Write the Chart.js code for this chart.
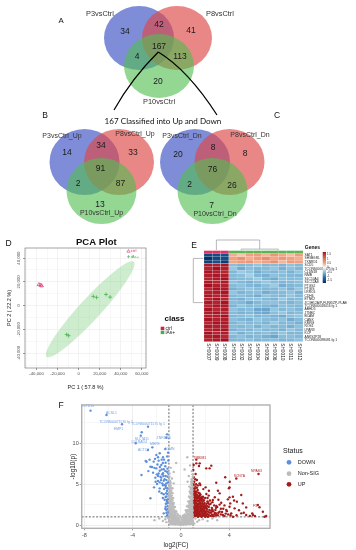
<!DOCTYPE html>
<html><head><meta charset="utf-8">
<script src="https://cdn.jsdelivr.net/npm/chart.js@4.4.1/dist/chart.umd.min.js"></script>
<style>
html,body{margin:0;padding:0;background:#fff;}
#wrap{position:relative;width:356px;height:550px;overflow:hidden;background:#fff;}
canvas{position:absolute;}
</style></head><body>
<div id="wrap">
<canvas id="venn" width="356" height="232" style="left:0;top:0"></canvas>
<canvas id="pca" width="190" height="168" style="left:0;top:232px"></canvas>
<canvas id="heat" width="171" height="140" style="left:185px;top:232px"></canvas>
<canvas id="volc" width="356" height="152" style="left:0;top:398px"></canvas>
</div>
<script>
// ---------------- DATA ----------------
// Venn: region order = only1, 1&2, only2, all three, 1&3, 2&3, only3
const vennSetsA = ["P3vsCtrl","P8vsCtrl","P10vsCtrl"];
const vennSetsB = ["P3vsCtrl_Up","P8vsCtrl_Up","P10vsCtrl_Up"];
const vennSetsC = ["P3vsCtrl_Dn","P8vsCtrl_Dn","P10vsCtrl_Dn"];
const vennCountsA = [34,42,41,167,4,113,20];
const vennCountsB = [14,34,33,91,2,87,13];
const vennCountsC = [20,8,8,76,2,26,7];
const vennTitle = "167 Classified into Up and Down";

// PCA
const pcaGroups = ["ctrl","iAs+"];
const pcaCtrl = [[-37800,17700],[-35200,16700],[-36200,17300]];
const pcaIAs = [[13900,7750],[17000,6900],[26000,9400],[29800,7200],[-11400,-24300],[-9500,-25300]];
const pcaXLabel = "PC 1 ( 57.8 %)";
const pcaYLabel = "PC 2 ( 22.2 %)";

// Heatmap
const heatSamples = ["SH0007","SH0009","SH0008","SH0001","SH0002","SH0003","SH0004","SH0005","SH0006","SH0010","SH0011","SH0012"];
const heatGroups = ["ctrl","ctrl","ctrl","iAs+","iAs+","iAs+","iAs+","iAs+","iAs+","iAs+","iAs+","iAs+"];
const heatGenes = ["SAT1","SH3BGRL","TXNRD1","SCD5","TCONS00071575 fg 1","CLDN18","NMB","SLC10A4","SLC12A8","PTGS2","PTGIS","LRRC6","CDH6","ETNK2","ZC3H12A/P-FUNK/ZP-PLAB","TCONS00018016 fg 1","ABHD5","JTNBC","BCAM","CANX","KMRG","ROS1","LPAR3","KCP","ANKS2P28","TCONS00098081 fg 1"];
const heatValues = [
 [-1.55,-1.50,-1.45, 0.45,0.30,0.55,0.60,0.40,0.65,0.50,0.35,0.60],
 [-1.85,-1.55,-1.50, 0.55,0.70,0.45,0.60,0.75,0.50,0.65,0.55,0.45],
 [-1.60,-1.45,-1.65, 0.50,0.60,0.65,0.45,0.55,0.70,0.40,0.60,0.55],
 [1.72,1.68,1.75,-0.55,-0.62,-0.58,-0.50,-0.60,-0.57,-0.63,-0.52,-0.59],
 [1.65,1.80,1.70,-0.48,-0.70,-0.55,-0.62,-0.58,-0.50,-0.66,-0.54,-0.60],
 [1.78,1.70,1.62,-0.60,-0.45,-0.52,-0.68,-0.57,-0.61,-0.55,-0.64,-0.50],
 [1.70,1.75,1.68,-0.58,-0.55,-0.40,-0.62,-0.66,-0.53,-0.57,-0.60,-0.62],
 [1.66,1.72,1.79,-0.62,-0.58,-0.55,-0.45,-0.63,-0.70,-0.54,-0.58,-0.56],
 [1.74,1.64,1.71,-0.54,-0.60,-0.66,-0.58,-0.48,-0.57,-0.62,-0.59,-0.55],
 [1.80,1.69,1.66,-0.57,-0.52,-0.60,-0.64,-0.55,-0.45,-0.68,-0.61,-0.58],
 [1.62,1.77,1.73,-0.65,-0.58,-0.50,-0.57,-0.61,-0.59,-0.52,-0.66,-0.48],
 [1.69,1.71,1.76,-0.50,-0.63,-0.57,-0.55,-0.68,-0.60,-0.58,-0.52,-0.64],
 [1.75,1.66,1.69,-0.59,-0.55,-0.62,-0.70,-0.52,-0.58,-0.61,-0.50,-0.60],
 [1.67,1.79,1.64,-0.61,-0.66,-0.54,-0.52,-0.59,-0.63,-0.47,-0.60,-0.57],
 [1.73,1.65,1.77,-0.56,-0.59,-0.71,-0.60,-0.54,-0.52,-0.58,-0.63,-0.55],
 [1.64,1.74,1.72,-0.63,-0.50,-0.58,-0.56,-0.62,-0.67,-0.55,-0.57,-0.60],
 [1.78,1.63,1.70,-0.52,-0.61,-0.56,-0.73,-0.75,-0.50,-0.59,-0.54,-0.62],
 [1.71,1.76,1.65,-0.58,-0.64,-0.60,-0.68,-0.72,-0.55,-0.48,-0.61,-0.57],
 [1.68,1.70,1.81,-0.60,-0.57,-0.52,-0.61,-0.58,-0.64,-0.70,-0.55,-0.50],
 [1.76,1.67,1.68,-0.55,-0.62,-0.64,-0.50,-0.57,-0.60,-0.53,-0.69,-0.58],
 [1.63,1.78,1.74,-0.62,-0.54,-0.59,-0.57,-0.63,-0.48,-0.61,-0.58,-0.66],
 [1.72,1.69,1.67,-0.57,-0.60,-0.55,-0.64,-0.52,-0.62,-0.58,-0.66,-0.54],
 [1.66,1.73,1.78,-0.64,-0.56,-0.61,-0.53,-0.60,-0.57,-0.65,-0.50,-0.59],
 [1.79,1.64,1.71,-0.53,-0.66,-0.57,-0.60,-0.55,-0.63,-0.51,-0.62,-0.61],
 [1.70,1.75,1.62,-0.59,-0.53,-0.63,-0.58,-0.66,-0.74,-0.56,-0.55,-0.60],
 [1.65,1.71,1.80,-0.61,-0.59,-0.54,-0.62,-0.57,-0.55,-0.63,-0.60,-0.52]
];
const heatLegendTicks = [1.5,1,0.5,0,-0.5,-1,-1.5];

// Volcano
const volcStatus = ["DOWN","Non-SIG","UP"];
const volcDown = [[-7.49,14.0],[-6.17,13.47],[-4.88,12.33],[-2.73,12.04],[-3.25,11.35],[-3.33,10.94],[-3.75,10.0],[-2.37,9.51],[-2.73,9.18],[-1.16,11.1],[-1.21,10.69],[-1.07,8.86],
 [-1.76,8.78],[-2.04,8.57],[-1.49,8.29],[-2.92,7.84],[-2.26,7.76],[-1.85,7.88],[-1.63,7.35],[-1.27,7.63],[-2.53,7.14],[-2.04,6.94],[-1.76,6.65],[-1.43,6.82],[-2.31,6.41],[-1.49,6.33],[-1.16,6.53],[-1.9,6.0],[-2.12,5.8],[-1.63,5.8],[-1.27,6.0],[-1.43,5.43],[-1.76,5.22],[-1.98,5.02],[-1.49,4.86],[-1.21,5.1],[-2.23,4.61],[-1.76,4.49],[-1.27,4.57],[-1.16,4.2],[-2.53,3.27],[-1.43,3.76],[-1.27,3.43],[-1.18,3.06],[-1.16,2.65],[-1.27,2.24],[-1.21,1.84],[-1.43,1.43],[-1.16,1.14],
 [-1.3,7.2],[-1.55,6.2],[-1.35,5.6],[-1.1,5.9],[-1.65,5.5],[-1.25,4.8],[-1.4,4.4],[-1.12,3.8],[-1.6,3.9],[-1.2,3.5],[-1.05,3.2],[-1.15,2.9],[-1.1,2.3],[-1.3,2.0],[-1.05,1.6],[-1.8,4.1],[-2.0,6.2],[-2.4,7.1],[-2.85,7.75],[-3.27,6.12],[-2.7,6.6],[-1.95,7.4],[-1.6,8.0],[-1.05,7.9],[-1.12,6.9],
 [-1.08,1.3],[-1.2,1.5],[-1.12,1.95],[-1.25,2.6],[-1.08,2.8],[-1.35,3.1],[-1.22,3.9],[-1.5,3.3],[-1.12,4.5],[-1.35,4.9],[-1.08,5.2],[-1.55,5.1],[-1.2,5.5],[-1.45,6.0],[-1.05,6.3],[-1.3,6.6],[-1.6,6.8],[-1.85,6.3],[-1.7,5.9],[-1.9,5.4],[-2.1,5.3],[-1.5,7.6],[-1.75,7.1],[-2.2,7.0],[-1.4,8.0],[-1.9,8.3],[-2.6,8.0],[-2.15,8.1],[-1.15,8.4],[-1.3,9.3]];
const volcNS = [[-0.95,5.9],[-0.9,5.4],[-0.98,5.0],[-0.85,4.8],[-0.92,4.5],[-0.8,4.2],[-0.95,4.0],[-0.88,3.8],[-0.75,3.6],[-0.97,3.5],[-0.82,3.3],[-0.9,3.1],[-0.7,3.0],[-0.95,2.9],[-0.78,2.8],[-0.86,2.6],[-0.65,2.5],[-0.93,2.4],[-0.72,2.3],[-0.82,2.2],[-0.6,2.1],[-0.97,2.0],[-0.68,1.95],[-0.88,1.85],[-0.55,1.8],[-0.76,1.7],[-0.92,1.6],[-0.62,1.55],[-0.5,1.5],[-0.83,1.45],[-0.7,1.35],[-0.97,1.3],[-0.58,1.25],[-0.45,1.2],[-0.78,1.15],[-0.9,1.05],[-0.65,1.0],[-0.52,0.95],[-0.4,0.9],[-0.85,0.85],[-0.72,0.8],[-0.6,0.75],[-0.98,0.7],[-0.35,0.7],[-0.48,0.65],[-0.8,0.6],[-0.66,0.55],[-0.3,0.55],[-0.9,0.5],[-0.55,0.45],[-0.42,0.4],[-0.75,0.4],[-0.25,0.4],[-0.62,0.3],[-0.35,0.3],[-0.5,0.25],[-0.85,0.3],[-0.2,0.25],[-0.7,0.2],[-0.4,0.15],[-0.15,0.15],[-0.58,0.1],[-0.3,0.1],[-0.1,0.08],[-0.45,0.05],[-0.22,0.05],[-0.05,0.03],
 [0.95,6.2],[0.88,5.6],[0.97,5.2],[0.9,4.9],[0.82,4.6],[0.96,4.3],[0.86,4.1],[0.78,3.9],[0.93,3.7],[0.85,3.5],[0.72,3.4],[0.98,3.2],[0.8,3.0],[0.9,2.85],[0.68,2.7],[0.95,2.55],[0.76,2.45],[0.86,2.3],[0.62,2.2],[0.93,2.1],[0.72,2.0],[0.82,1.9],[0.56,1.85],[0.97,1.75],[0.66,1.7],[0.88,1.6],[0.5,1.55],[0.75,1.5],[0.92,1.4],[0.6,1.35],[0.45,1.25],[0.82,1.2],[0.7,1.1],[0.97,1.05],[0.55,1.0],[0.38,0.95],[0.88,0.9],[0.65,0.85],[0.48,0.78],[0.78,0.72],[0.32,0.7],[0.95,0.65],[0.58,0.6],[0.42,0.55],[0.7,0.5],[0.25,0.45],[0.85,0.45],[0.52,0.38],[0.35,0.35],[0.65,0.3],[0.18,0.28],[0.45,0.2],[0.78,0.22],[0.28,0.15],[0.58,0.12],[0.1,0.1],[0.38,0.06],[0.2,0.04],[0.02,0.02],
 [0.52,8.3],[-0.4,7.6],[-0.85,7.0],[0.75,7.3],[0.3,6.8],[-0.6,6.5],[0.9,6.6],[-0.95,6.3],[0.65,6.0],[-0.75,5.7],[0.55,5.3],[-0.6,5.1],[0.7,4.7],[-0.7,4.5],
 [-0.15,0.6],[0.12,0.5],[-0.05,0.35],[0.05,0.7],[-0.25,0.9],[0.22,0.85],[0.0,0.2],[-0.1,1.1],[0.15,1.15],[-0.3,1.4],[0.3,1.3],[-0.4,1.7],[0.4,1.8],[-0.5,2.2],[0.5,2.3],[-0.6,2.7],[0.6,2.9],[-0.65,3.3],[0.67,3.5],[-0.7,3.9],[0.72,4.1],[-0.78,4.5],[0.8,4.4],[-0.86,5.2],[0.84,5.3],
 [-1.3,0.7],[-1.5,0.5],[-1.2,0.35],[-1.8,0.8],[-1.1,0.9],[1.2,0.8],[1.5,0.6],[1.35,0.4],[1.8,0.7],[2.2,0.5],[2.6,0.8],[1.1,0.2],[-2.2,0.6],[3.0,0.6],
 [-0.92,0.15],[-0.78,0.08],[-0.66,0.12],[-0.52,0.14],[-0.38,0.2],[-0.26,0.18],[-0.12,0.2],[0.08,0.18],[0.22,0.2],[0.34,0.12],[0.48,0.1],[0.62,0.18],[0.74,0.1],[0.88,0.16],[0.96,0.3],
 [-0.96,0.4],[-0.82,0.45],[-0.7,0.35],[-0.58,0.55],[-0.46,0.5],[-0.34,0.48],[-0.2,0.5],[-0.08,0.45],[0.08,0.35],[0.2,0.6],[0.32,0.52],[0.45,0.42],[0.58,0.45],[0.72,0.38],[0.84,0.55],[0.98,0.45],
 [-0.94,0.9],[-0.8,0.95],[-0.68,0.7],[-0.56,0.85],[-0.44,0.78],[-0.32,0.82],[-0.18,0.78],[0.05,0.9],[0.18,1.0],[0.28,0.92],[0.42,0.75],[0.55,0.8],[0.68,0.68],[0.8,0.98],[0.92,0.8],
 [-0.95,1.2],[-0.85,1.3],[-0.74,1.05],[-0.62,1.15],[-0.5,1.3],[-0.4,1.05],[-0.25,1.2],[0.25,1.1],[0.38,1.2],[0.5,1.3],[0.62,1.15],[0.74,1.3],[0.86,1.1],[0.96,1.3],
 [-0.94,1.75],[-0.82,1.7],[-0.7,1.6],[-0.58,1.65],[-0.45,1.5],[0.45,1.6],[0.58,1.7],[0.7,1.8],[0.82,1.7],[0.94,1.9],
 [-0.96,2.3],[-0.86,2.1],[-0.76,2.0],[-0.64,2.3],[0.64,2.4],[0.76,2.2],[0.88,2.05],[0.96,2.4],
 [-0.92,2.75],[-0.8,2.55],[-0.7,2.65],[0.7,2.9],[0.82,2.65],[0.93,2.85],
 [-0.96,3.3],[-0.86,3.05],[-0.76,3.2],[0.78,3.3],[0.88,3.1],[0.96,3.5],
 [-0.94,3.7],[-0.84,3.55],[0.84,3.8],[0.94,3.95],
 [-0.92,4.25],[-0.84,4.0],[0.9,4.5],[0.98,4.7],
 [-0.96,4.7],[-0.9,5.1],[0.94,5.5],[0.86,5.0],[-0.98,5.5],[0.98,5.9]];
const volcUp = [[1.27,8.0],[6.42,6.24],[4.58,5.7],[6.5,2.17],
 [1.27,7.55],[1.05,7.35],[1.49,7.22],[2.51,7.27],[2.09,6.94],[1.02,6.73],[1.21,6.24],[1.05,5.84],[1.32,5.51],[1.54,5.1],[1.05,4.9],[2.92,5.18],[3.66,5.84],[4.02,4.61],[3.2,3.88],[4.3,3.47],[4.99,3.67],[3.88,3.14],[4.08,2.65],[4.63,2.86],[5.4,2.16],[5.9,1.43],[6.78,1.63],[7.05,1.1],[6.12,1.1],[4.99,1.43],[3.75,1.84],[2.92,2.33],[3.47,1.22],[2.64,3.06],[2.31,4.2],[2.04,4.61],[1.82,3.47],[3.33,2.73],[4.16,1.43],[2.92,1.43],[2.51,1.76],[4.44,2.04],[5.12,2.65],[5.4,1.22],[4.3,1.02],[6.36,2.45],[4.04,5.3],[3.97,4.49],[3.06,4.2],[4.02,3.39],[4.02,2.24],[5.95,1.22],[6.92,1.02],[3.2,1.63],[2.1,2.24],[1.55,3.67],[2.37,6.94],[1.55,7.55],
 [1.02,1.05],[1.1,1.2],[1.2,1.1],[1.32,1.15],[1.45,1.05],[1.6,1.12],[1.75,1.08],[1.9,1.15],[2.05,1.1],[2.25,1.05],[2.45,1.12],[2.7,1.08],[1.05,1.4],[1.15,1.5],[1.28,1.38],[1.4,1.45],[1.55,1.35],[1.7,1.5],[1.85,1.4],[2.0,1.45],[2.2,1.35],[2.4,1.5],[1.02,1.7],[1.12,1.85],[1.25,1.75],[1.38,1.8],[1.5,1.7],[1.65,1.85],[1.8,1.75],[1.95,1.82],[2.15,1.7],[2.35,1.85],[1.05,2.05],[1.18,2.15],[1.3,2.0],[1.42,2.1],[1.58,2.2],[1.72,2.05],[1.88,2.15],[2.08,2.05],[2.3,2.2],[1.02,2.4],[1.12,2.5],[1.25,2.35],[1.38,2.45],[1.52,2.55],[1.68,2.4],[1.85,2.5],[2.02,2.38],[1.05,2.75],[1.15,2.85],[1.28,2.7],[1.42,2.9],[1.6,2.75],[1.78,2.85],[1.95,2.7],[1.02,3.1],[1.12,3.2],[1.25,3.05],[1.4,3.25],[1.55,3.1],[1.72,3.2],[1.9,3.0],[1.05,3.45],[1.18,3.55],[1.32,3.4],[1.5,3.5],[1.68,3.4],[1.02,3.8],[1.15,3.9],[1.3,3.75],[1.45,3.95],[1.62,3.7],[1.08,4.2],[1.22,4.1],[1.38,4.3],[1.05,4.55],[1.2,4.7],[1.1,5.3],[1.25,5.0],
 [2.55,1.3],[2.8,1.5],[3.05,1.2],[2.6,1.9],[2.9,2.1],[2.45,2.6],[2.2,2.9],[2.0,3.3],[2.1,3.8],[1.85,4.4],[1.6,4.9],[3.4,1.6],[3.6,1.1],[3.9,1.3],[3.2,2.5],
 [1.08,1.25],[1.22,1.3],[1.35,1.28],[1.48,1.25],[1.62,1.3],[1.78,1.25],[1.92,1.3],[2.1,1.25],[2.3,1.22],[1.1,1.6],[1.24,1.62],[1.36,1.58],[1.5,1.6],[1.64,1.65],[1.78,1.6],[1.92,1.62],[2.08,1.6],[2.28,1.6],[1.08,1.95],[1.2,1.98],[1.34,1.9],[1.48,1.95],[1.62,2.0],[1.76,1.92],[1.92,1.98],[2.15,1.95],[1.1,2.25],[1.22,2.28],[1.35,2.22],[1.48,2.3],[1.64,2.28],[1.8,2.3],[1.96,2.25],[2.18,2.3],[1.08,2.6],[1.2,2.62],[1.34,2.58],[1.48,2.65],[1.62,2.6],[1.76,2.65],[1.92,2.55],[2.12,2.6],[1.1,2.95],[1.22,2.98],[1.36,3.0],[1.5,2.95],[1.66,3.0],[1.84,3.1],[1.12,3.35],[1.26,3.3],[1.4,3.4],[1.58,3.3],[1.78,3.35],[1.1,3.65],[1.24,3.7],[1.38,3.6],[1.55,3.85],[1.15,4.0],[1.3,4.05],[1.02,4.4],[1.15,4.45],[1.32,4.55],[1.4,4.85],[1.02,5.1],[1.18,5.6],[2.6,1.1],[2.75,1.3],[2.9,1.2],[2.5,1.55],[2.65,1.7],[2.85,1.85],[3.1,1.5],[3.3,1.3],[2.55,2.1],[2.75,2.4],[3.0,2.2],[2.35,2.5],[2.25,2.7],[2.4,3.0],[2.6,2.8],[2.2,3.3],[2.3,3.6],[3.5,2.0],[3.8,1.7],[3.3,2.0],[4.1,1.2],[4.6,1.2],[4.8,1.8],[5.2,1.5],[5.7,1.1],[3.6,2.4],[2.8,3.4],[3.1,3.1],[4.4,3.0],[3.7,1.4],[2.0,1.02],[1.4,1.02],[1.7,1.0],[2.2,1.0]];
const volcLabelsDown = ["KCTD16","ACSL1","TCONS00071570 fg 1","EMP1","TCONS00071575 fg 1","SLC7A11","LDLRAD4","MEPE","ACTC1","ZNF385D","LGMN"];
const volcLabelsDownIdx = [0,1,2,2,3,5,6,7,8,9,11];
const volcLabelsUp = ["TMBIM1","NPAS3","SCN7A","F3"];
const volcLabelsUpIdx = [0,1,2,3];
const volcFC = 1, volcP = 1;

// ---------------- LAYOUT / STYLE ----------------
const FONT = "'Liberation Sans', Arial, Helvetica, sans-serif";
Chart.defaults.font.family = FONT;
Chart.defaults.color = '#333';
function txt(ctx, s, x, y, size, o) {
  o = o || {};
  ctx.save();
  ctx.font = (o.bold ? 'bold ' : '') + size + 'px ' + (o.family || FONT);
  ctx.fillStyle = o.color || '#111';
  ctx.textAlign = o.align || 'center';
  ctx.textBaseline = o.baseline || 'middle';
  ctx.translate(x, y);
  if (o.rot) ctx.rotate(o.rot);
  if (o.sx) ctx.scale(o.sx, 1);
  ctx.fillText(s, 0, 0);
  ctx.restore();
}
const vennLayout = [
 {circles:[[139,38],[177,38],[159,66]], rx:35, ry:32, regions:[[125,32],[159,25],[191,31],[159,47],[137,57],[180,57],[158,82]], setPos:[[100,14],[220,14],[159,102]], setSize:7.4},
 {circles:[[84.5,162],[119,162],[101.5,191]], rx:35, ry:33, regions:[[67,153],[101,146],[133,153],[100.5,169],[78,184],[120.5,184],[100,205]], setPos:[[62,136.5],[135,134.5],[101.5,213]], setSize:7},
 {circles:[[195,162],[229.5,162],[212.5,191]], rx:35, ry:33, regions:[[178,154.5],[213,148],[245,154],[212.5,170],[189.5,185],[232,186],[211.5,205.5]], setPos:[[182,136.5],[250,135],[215,214]], setSize:7}
];
const vennSetNames = [vennSetsA, vennSetsB, vennSetsC];
const vennCounts = [vennCountsA, vennCountsB, vennCountsC];
const vennColors = ['rgba(72,92,200,0.7)','rgba(222,72,72,0.66)','rgba(80,190,80,0.62)'];
const arcLayout = {apex:[158.3,52], left:[[132,78],[114,110]], right:[[188,70],[217,115]]};

const vennPlugin = {
  id:'vennDraw',
  beforeDatasetsDraw(chart) {
    const {ctx, scales:{x, y}} = chart;
    const kx = x.getPixelForValue(1) - x.getPixelForValue(0);
    const ky = Math.abs(y.getPixelForValue(1) - y.getPixelForValue(0));
    vennLayout.forEach(L => {
      L.circles.forEach((c, j) => {
        ctx.beginPath();
        ctx.ellipse(x.getPixelForValue(c[0]), y.getPixelForValue(c[1]), L.rx*kx, L.ry*ky, 0, 0, Math.PI*2);
        ctx.fillStyle = vennColors[j];
        ctx.fill();
      });
    });
  },
  afterDatasetsDraw(chart) {
    const {ctx, scales:{x, y}} = chart;
    const P = p => [x.getPixelForValue(p[0]), y.getPixelForValue(p[1])];
    chart.data.datasets.forEach((ds, k) => {
      const meta = chart.getDatasetMeta(k);
      meta.data.forEach((pt, i) => txt(ctx, String(ds.data[i].v), pt.x, pt.y, 8.5, {color:'#1a1a1a'}));
      vennLayout[k].setPos.forEach((p, j) => { const q = P(p); txt(ctx, vennSetNames[k][j], q[0], q[1], vennLayout[k].setSize, {color:'#333'}); });
    });
    ctx.save();
    ctx.strokeStyle = '#000'; ctx.lineWidth = 1.2;
    const a = P(arcLayout.apex);
    [arcLayout.left, arcLayout.right].forEach(arc => {
      const c = P(arc[0]), e = P(arc[1]);
      ctx.beginPath(); ctx.moveTo(a[0], a[1]); ctx.quadraticCurveTo(c[0], c[1], e[0], e[1]); ctx.stroke();
    });
    ctx.restore();
    ctx.save();
    ctx.font = "10px Lato, 'Open Sans', sans-serif";
    const w = ctx.measureText(vennTitle).width;
    ctx.restore();
    const t = P([163, 121]);
    txt(ctx, vennTitle, t[0], t[1], 10*117/w, {family:"Lato, 'Open Sans', sans-serif", color:'#111'});
    const la = P([61,21]), lb = P([45,116]), lc = P([277,116]);
    txt(ctx, 'A', la[0], la[1], 7.8, {color:'#111'});
    txt(ctx, 'B', lb[0], lb[1], 8.5, {color:'#111'});
    txt(ctx, 'C', lc[0], lc[1], 8.5, {color:'#111'});
  }
};

new Chart(document.getElementById('venn'), {
  type:'scatter',
  data:{datasets: vennLayout.map((L, k) => ({
    data: L.regions.map((p, i) => ({x:p[0], y:p[1], v:vennCounts[k][i]})),
    pointRadius:0
  }))},
  options:{responsive:false, animation:false, events:[], devicePixelRatio:1,
    layout:{padding:0},
    plugins:{legend:{display:false}, tooltip:{enabled:false}},
    scales:{x:{type:'linear', min:0, max:356, display:false}, y:{type:'linear', min:0, max:232, reverse:true, display:false}}
  },
  plugins:[vennPlugin]
});

// ---------------- PCA ----------------
const pcaColors = {ctrl:'#e3336c', ias:'#3fae49'};
const ellipseScale = 2.4;
function ellipseFrom(pts, r) {
  const n = pts.length;
  const mx = pts.reduce((s,p)=>s+p[0],0)/n, my = pts.reduce((s,p)=>s+p[1],0)/n;
  let sxx=0, syy=0, sxy=0;
  pts.forEach(p => { const dx=p[0]-mx, dy=p[1]-my; sxx+=dx*dx; syy+=dy*dy; sxy+=dx*dy; });
  sxx/=(n-1); syy/=(n-1); sxy/=(n-1);
  const tr = sxx+syy, det = sxx*syy - sxy*sxy, disc = Math.sqrt(Math.max(tr*tr/4 - det, 0));
  const l1 = tr/2 + disc, l2 = Math.max(tr/2 - disc, 0);
  let v = [sxy, l1 - sxx]; const nv = Math.hypot(v[0], v[1]) || 1; v = [v[0]/nv, v[1]/nv];
  const u = [-v[1], v[0]];
  return {mx, my, a:[v[0]*Math.sqrt(l1)*r, v[1]*Math.sqrt(l1)*r], b:[u[0]*Math.sqrt(l2)*r, u[1]*Math.sqrt(l2)*r]};
}
const pcaPlugin = {
  id:'pcaDraw',
  beforeDatasetsDraw(chart) {
    const {ctx, scales:{x, y}} = chart;
    const E = ellipseFrom(pcaIAs, ellipseScale);
    ctx.save();
    ctx.beginPath();
    for (let i = 0; i <= 120; i++) {
      const t = i/120*Math.PI*2;
      const px = x.getPixelForValue(E.mx + E.a[0]*Math.cos(t) + E.b[0]*Math.sin(t));
      const py = y.getPixelForValue(E.my + E.a[1]*Math.cos(t) + E.b[1]*Math.sin(t));
      if (i === 0) ctx.moveTo(px, py); else ctx.lineTo(px, py);
    }
    ctx.closePath();
    ctx.fillStyle = 'rgba(120,205,120,0.36)';
    ctx.fill();
    ctx.restore();
  },
  afterDraw(chart) {
    const {ctx, chartArea:ca, scales:{y}} = chart;
    ctx.save();
    ctx.strokeStyle = '#666'; ctx.lineWidth = 0.6;
    ctx.strokeRect(ca.left, ca.top, ca.right-ca.left, ca.bottom-ca.top);
    ctx.restore();
    y.ticks.forEach(t => {
      if (t.value % 20000 === 0) txt(ctx, t.value.toLocaleString('en-US'), ca.left-6, y.getPixelForValue(t.value), 4.3, {color:'#4d4d4d', rot:-Math.PI/2});
    });
    const lx = ca.right - 17.5, ly1 = 19, ly2 = 24.7;
    ctx.save();
    ctx.strokeStyle = pcaColors.ctrl; ctx.lineWidth = 0.6;
    ctx.beginPath(); ctx.moveTo(lx, ly1-1.5); ctx.lineTo(lx+1.6, ly1+1.2); ctx.lineTo(lx-1.6, ly1+1.2); ctx.closePath(); ctx.stroke();
    ctx.strokeStyle = pcaColors.ias;
    ctx.beginPath(); ctx.moveTo(lx-1.5, ly2); ctx.lineTo(lx+1.5, ly2); ctx.moveTo(lx, ly2-1.5); ctx.lineTo(lx, ly2+1.5); ctx.stroke();
    ctx.restore();
    txt(ctx, pcaGroups[0], lx+2.2, ly1, 4.3, {color:pcaColors.ctrl, align:'left'});
    txt(ctx, pcaGroups[1], lx+2.2, ly2, 4.3, {color:pcaColors.ias, align:'left'});
    txt(ctx, 'class', 174.5, 87, 8, {bold:true, color:'#111'});
    ctx.fillStyle = '#d0204f'; ctx.fillRect(160.7, 94.7, 3.6, 3.4);
    ctx.fillStyle = '#44b04a'; ctx.fillRect(160.7, 98.7, 3.6, 3.4);
    txt(ctx, pcaGroups[0], 165.5, 96.3, 4.8, {color:'#222', align:'left'});
    txt(ctx, pcaGroups[1], 165.5, 100.4, 4.8, {color:'#222', align:'left'});
    txt(ctx, 'PCA Plot', 96.3, 10.3, 9.5, {bold:true, color:'#111'});
    txt(ctx, 'D', 8.5, 11.5, 8.5, {color:'#111'});
  }
};
function stepTicks(step) {
  return s => { const out = []; for (let v = Math.ceil(s.min/step)*step; v <= s.max; v += step) out.push({value:v}); s.ticks = out; };
}
new Chart(document.getElementById('pca'), {
  type:'scatter',
  data:{datasets:[
    {label:pcaGroups[0], data:pcaCtrl.map(p=>({x:p[0], y:p[1]})), pointStyle:'triangle', pointRadius:2.1, borderColor:pcaColors.ctrl, backgroundColor:'rgba(0,0,0,0)', borderWidth:0.7},
    {label:pcaGroups[1], data:pcaIAs.map(p=>({x:p[0], y:p[1]})), pointStyle:'cross', pointRadius:2, borderColor:pcaColors.ias, borderWidth:0.7}
  ]},
  options:{responsive:false, animation:false, events:[], devicePixelRatio:1,
    layout:{padding:{left:0, top:16, right:44, bottom:0}},
    plugins:{legend:{display:false}, tooltip:{enabled:false}},
    scales:{
      x:{type:'linear', min:-51000, max:64000, afterBuildTicks:stepTicks(10000), afterFit:s=>{s.height=32;},
        ticks:{callback:v => v % 20000 === 0 ? v.toLocaleString('en-US') : '', font:{size:4.3}, color:'#4d4d4d', padding:1, maxRotation:0, autoSkip:false},
        grid:{color:c => (c.tick && c.tick.value % 20000 === 0) ? '#ebebeb' : '#f4f4f4', lineWidth:0.6, tickLength:2, tickColor:c => (c.tick && c.tick.value % 20000 === 0) ? '#555' : 'rgba(0,0,0,0)'},
        border:{display:false},
        title:{display:true, text:pcaXLabel, font:{size:5.5}, color:'#222', padding:{top:0, bottom:9.7}}
      },
      y:{type:'linear', min:-52500, max:48500, afterBuildTicks:stepTicks(10000), afterFit:s=>{s.width=25;},
        ticks:{display:false},
        grid:{color:c => (c.tick && c.tick.value % 20000 === 0) ? '#ebebeb' : '#f4f4f4', lineWidth:0.6, tickLength:2, tickColor:c => (c.tick && c.tick.value % 20000 === 0) ? '#555' : 'rgba(0,0,0,0)'},
        border:{display:false},
        title:{display:true, text:pcaYLabel, font:{size:5.5}, color:'#222', padding:{top:5.7, bottom:0}}
      }
    }
  },
  plugins:[pcaPlugin]
});

// ---------------- HEATMAP ----------------
const heatStops = [[-1.8,[5,48,97]],[-1.2,[33,102,172]],[-0.5,[146,197,222]],[0,[247,247,247]],[0.5,[244,165,130]],[1.2,[214,96,77]],[1.8,[165,15,35]]];
function heatColor(v) {
  if (v <= heatStops[0][0]) return 'rgb(' + heatStops[0][1].join(',') + ')';
  for (let i = 1; i < heatStops.length; i++) {
    if (v <= heatStops[i][0]) {
      const [v0, c0] = heatStops[i-1], [v1, c1] = heatStops[i];
      const t = (v - v0)/(v1 - v0);
      return 'rgb(' + c0.map((c, k) => Math.round(c + (c1[k]-c)*t)).join(',') + ')';
    }
  }
  return 'rgb(' + heatStops[heatStops.length-1][1].join(',') + ')';
}
const groupColors = {'ctrl':'#de3560', 'iAs+':'#58b658'};
const heatPlugin = {
  id:'heatDraw',
  afterDraw(chart) {
    const {ctx, chartArea:ca, scales:{x, y}} = chart;
    heatSamples.forEach((s, j) => {
      const x0 = x.getPixelForValue(j), x1 = x.getPixelForValue(j+1);
      ctx.fillStyle = groupColors[heatGroups[j]];
      ctx.fillRect(x0, ca.top-2.6, x1-x0, 2.6);
      txt(ctx, s, (x0+x1)/2, ca.bottom+1.5, 4.8, {color:'#222', align:'left', rot:Math.PI/2});
    });
    ctx.save();
    ctx.strokeStyle = '#999'; ctx.lineWidth = 0.7;
    const yLeaf = ca.top-3, yRoot = ca.top-13.3, yT = ca.top-4.2, yC = ca.top-3.3;
    const xc = x.getPixelForValue(1.5), xa = x.getPixelForValue(4.5), xb = x.getPixelForValue(9), xt = (xa+xb)/2;
    ctx.beginPath();
    ctx.moveTo(xc, yC); ctx.lineTo(xc, yRoot); ctx.lineTo(xt, yRoot); ctx.lineTo(xt, yT);
    ctx.moveTo(xa, yLeaf); ctx.lineTo(xa, yT); ctx.lineTo(xb, yT); ctx.lineTo(xb, yLeaf);
    const xr = ca.left-10.7, yTop = y.getPixelForValue(1), yRest = (y.getPixelForValue(3)+y.getPixelForValue(heatGenes.length-1))/2;
    ctx.moveTo(ca.left-0.8, yTop); ctx.lineTo(xr, yTop); ctx.lineTo(xr, yRest); ctx.lineTo(ca.left-0.8, yRest);
    ctx.stroke();
    ctx.restore();
    const bx = 137.7, bTop = 20, bBot = 51, vmax = 1.8, vmin = -1.8;
    const g = ctx.createLinearGradient(0, bTop, 0, bBot);
    heatStops.forEach(s => g.addColorStop((vmax - s[0])/(vmax - vmin), 'rgb(' + s[1].join(',') + ')'));
    ctx.fillStyle = g; ctx.fillRect(bx, bTop, 3.3, bBot-bTop);
    heatLegendTicks.forEach(v => txt(ctx, String(v), bx+4.3, bTop + (vmax - v)/(vmax - vmin)*(bBot-bTop), 3, {color:'#333', align:'left'}));
    txt(ctx, 'Genes', 127.5, 16, 5, {bold:true, color:'#111'});
    txt(ctx, 'E', 9, 13.5, 8.5, {color:'#111'});
  }
};
new Chart(document.getElementById('heat'), {
  type:'bar',
  data:{labels:heatGenes, datasets:heatSamples.map((s, j) => ({
    label:s, data:heatGenes.map(() => 1),
    backgroundColor:heatValues.map(r => heatColor(r[j])),
    borderColor:'rgba(255,255,255,0.28)', borderWidth:0.4, borderSkipped:false,
    barPercentage:1, categoryPercentage:1
  }))},
  options:{indexAxis:'y', responsive:false, animation:false, events:[], devicePixelRatio:1,
    layout:{padding:{left:19, top:21.3, right:0, bottom:30.3}},
    plugins:{legend:{display:false}, tooltip:{enabled:false}},
    scales:{
      x:{type:'linear', stacked:true, min:0, max:heatSamples.length, display:false},
      y:{type:'category', stacked:true, position:'right', afterFit:s=>{s.width=53;},
        grid:{display:false, drawTicks:false}, border:{display:false},
        ticks:{font:{size:3.3}, color:'#222', padding:1.5, autoSkip:false}}
    }
  },
  plugins:[heatPlugin]
});

// ---------------- VOLCANO ----------------
const volcColors = {DOWN:'#5d8fdc', NS:'#bcbcbc', UP:'#a51a1a'};
const volcLabelOffDown = [[-3,-4.5],[5,-1.5],[-6,-2.5],[-3.5,4.5],[0,-3],[1,3],[3.5,-0.8],[2.5,-3.3],[-4.5,0],[-3,3.8],[1.5,-3.5]];
const volcLabelOffUp = [[3.5,-2],[-2,-3.3],[3,-2.6],[-4.5,-1.3]];
const volcPlugin = {
  id:'volcDraw',
  beforeDatasetsDraw(chart) {
    const {ctx, chartArea:ca, scales:{x, y}} = chart;
    ctx.save();
    ctx.strokeStyle = '#222'; ctx.lineWidth = 0.7; ctx.setLineDash([2, 1.6]);
    ctx.beginPath();
    [-volcFC, volcFC].forEach(v => { const px = x.getPixelForValue(v); ctx.moveTo(px, ca.top); ctx.lineTo(px, ca.bottom); });
    const py = y.getPixelForValue(volcP); ctx.moveTo(ca.left, py); ctx.lineTo(ca.right, py);
    ctx.stroke();
    ctx.restore();
  },
  afterDatasetsDraw(chart) {
    const {ctx, chartArea:ca} = chart;
    const md = chart.getDatasetMeta(1), mu = chart.getDatasetMeta(2);
    volcLabelsDown.forEach((s, i) => { const p = md.data[volcLabelsDownIdx[i]]; const o = volcLabelOffDown[i]; txt(ctx, s, p.x+o[0], p.y+o[1], 3.4, {color:'#6e9be2'}); });
    volcLabelsUp.forEach((s, i) => { const p = mu.data[volcLabelsUpIdx[i]]; const o = volcLabelOffUp[i]; txt(ctx, s, p.x+o[0], p.y+o[1], 3.4, {color:'#b32424'}); });
    ctx.save();
    ctx.strokeStyle = '#b0b0b0'; ctx.lineWidth = 1.4;
    ctx.strokeRect(ca.left, ca.top, ca.right-ca.left, ca.bottom-ca.top);
    ctx.restore();
    txt(ctx, 'Status', 283, 53, 7, {color:'#222', align:'left'});
    const cols = [volcColors.DOWN, volcColors.NS, volcColors.UP], ys = [64.3, 75.7, 86.3];
    volcStatus.forEach((s, i) => {
      ctx.beginPath(); ctx.arc(289, ys[i], 2.4, 0, Math.PI*2); ctx.fillStyle = cols[i]; ctx.fill();
      txt(ctx, s, 297.7, ys[i], 5.5, {color:'#222', align:'left'});
    });
    txt(ctx, 'F', 61, 8, 8.5, {color:'#111'});
  }
};
new Chart(document.getElementById('volc'), {
  type:'scatter',
  data:{datasets:[
    {label:'Non-SIG', data:volcNS.map(p=>({x:p[0], y:p[1]})), backgroundColor:volcColors.NS, borderWidth:0, pointRadius:1.2},
    {label:'DOWN', data:volcDown.map(p=>({x:p[0], y:p[1]})), backgroundColor:volcColors.DOWN, borderWidth:0, pointRadius:1.2},
    {label:'UP', data:volcUp.map(p=>({x:p[0], y:p[1]})), backgroundColor:volcColors.UP, borderWidth:0, pointRadius:1.2}
  ]},
  options:{responsive:false, animation:false, events:[], devicePixelRatio:1,
    layout:{padding:{left:55, top:7, right:86, bottom:0}},
    plugins:{legend:{display:false}, tooltip:{enabled:false}},
    scales:{
      x:{type:'linear', min:-8.22, max:7.37, afterBuildTicks:stepTicks(2), afterFit:s=>{s.height=21.7;},
        ticks:{callback:v => v % 4 === 0 ? String(v) : '', font:{size:5.5}, color:'#4d4d4d', padding:1.6, maxRotation:0, autoSkip:false},
        grid:{color:c => (c.tick && c.tick.value % 4 === 0) ? '#e3e3e3' : '#f1f1f1', lineWidth:0.6, tickLength:2, tickColor:c => (c.tick && c.tick.value % 4 === 0) ? '#666' : 'rgba(0,0,0,0)'},
        border:{display:false},
        title:{display:true, text:'log2(FC)', font:{size:6.4}, color:'#222', padding:{top:0, bottom:1.2}}
      },
      y:{type:'linear', min:-0.4, max:14.69, afterBuildTicks:stepTicks(2.5), afterFit:s=>{s.width=26.7;},
        ticks:{callback:v => v % 5 === 0 ? String(v) : '', font:{size:5.5}, color:'#4d4d4d', padding:1},
        grid:{color:c => (c.tick && c.tick.value % 5 === 0) ? '#e3e3e3' : '#f1f1f1', lineWidth:0.6, tickLength:2, tickColor:c => (c.tick && c.tick.value % 5 === 0) ? '#666' : 'rgba(0,0,0,0)'},
        border:{display:false},
        title:{display:true, text:'-log10(p)', font:{size:6.4}, color:'#222', padding:{top:14, bottom:0}}
      }
    }
  },
  plugins:[volcPlugin]
});
</script>
</body></html>
